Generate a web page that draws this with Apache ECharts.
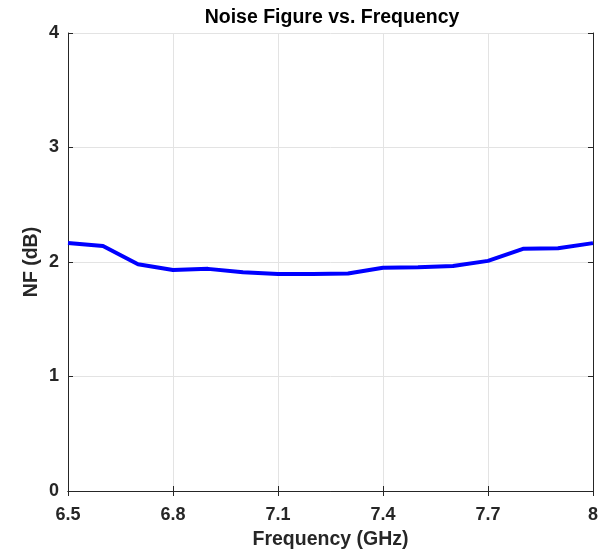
<!DOCTYPE html>
<html><head><meta charset="utf-8">
<script src="https://cdn.jsdelivr.net/npm/echarts@6/dist/echarts.min.js"></script>
<style>html,body{margin:0;padding:0;background:#fff}#c{width:601px;height:555px}</style>
</head><body><div id="c"></div>
<script>
const freq = [6.5,6.6,6.7,6.8,6.9,7.0,7.1,7.2,7.3,7.4,7.5,7.6,7.7,7.8,7.9,8.0];
const nf = [2.165,2.14,1.98,1.93,1.94,1.91,1.895,1.895,1.9,1.95,1.955,1.965,2.01,2.115,2.12,2.165];
const title = 'Noise Figure vs. Frequency';
const xName = 'Frequency (GHz)';
const yName = 'NF (dB)';
const font = 'Liberation Sans, Arial, Helvetica, sans-serif';
const axisCol = '#262626';
const chart = echarts.init(document.getElementById('c'));
const base = {
  axisLine:{show:true,lineStyle:{color:axisCol,width:1}},
  axisTick:{show:true,inside:true,length:5,lineStyle:{color:axisCol}},
};
chart.setOption({
  animation:false,
  title:{text:title,left:327,textAlign:'center',top:3,textStyle:{fontFamily:font,fontWeight:'bold',fontSize:19.5,color:'#000'}},
  grid:{left:68,right:5,top:33,bottom:62},
  xAxis:[
    Object.assign({type:'value',min:6.5,max:8,interval:0.3,position:'bottom',
      name:xName,nameLocation:'middle',nameGap:39,nameMoveOverlap:false,
      nameTextStyle:{fontFamily:font,fontWeight:'bold',fontSize:19.5,color:'#262626'},
      axisLabel:{fontFamily:font,fontWeight:'bold',fontSize:18,color:'#262626',margin:15,
        formatter:v=>String(Math.round(v*10)/10)},
      splitLine:{show:true,lineStyle:{color:'#e3e3e3',width:1}}},base),
    Object.assign({type:'value',min:6.5,max:8,interval:0.3,position:'top',axisLabel:{show:false},splitLine:{show:false}},base)
  ],
  yAxis:[
    Object.assign({type:'value',min:0,max:4,interval:1,position:'left',
      name:yName,nameLocation:'middle',nameGap:26,nameMoveOverlap:false,
      nameTextStyle:{fontFamily:font,fontWeight:'bold',fontSize:19.5,color:'#262626'},
      axisLabel:{fontFamily:font,fontWeight:'bold',fontSize:18,color:'#262626',margin:9},
      splitLine:{show:true,lineStyle:{color:'#e3e3e3',width:1}}},base),
    Object.assign({type:'value',min:0,max:4,interval:1,position:'right',axisLabel:{show:false},splitLine:{show:false}},base)
  ],
  series:[{type:'line',data:freq.map((f,i)=>[f,nf[i]]),showSymbol:false,
    lineStyle:{color:'#0000ff',width:4},itemStyle:{color:'#0000ff'}}]
});
</script></body></html>
